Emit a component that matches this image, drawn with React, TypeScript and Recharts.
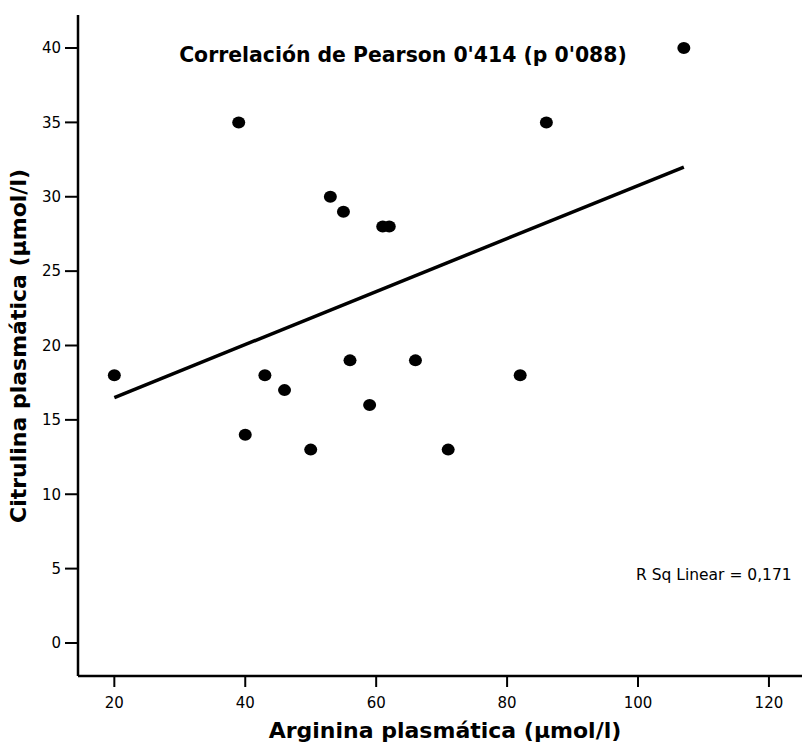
import { ReferenceLine, Scatter, ScatterChart, XAxis, YAxis } from "recharts";

// arginina (x) / citrulina (y), µmol/l
const arginina = [20, 39, 40, 43, 46, 50, 53, 55, 56, 59, 61, 62, 66, 71, 82, 86, 107];
const citrulina = [18, 35, 14, 18, 17, 13, 30, 29, 19, 16, 28, 28, 19, 13, 18, 35, 40];

// fit line endpoints as drawn
const fitX = [20, 107];
const fitY = [16.5, 32];

const xTicks = [20, 40, 60, 80, 100, 120];
const yTicks = [0, 5, 10, 15, 20, 25, 30, 35, 40];

const FONT = "'DejaVu Sans', Verdana, sans-serif";
const INK = "#000";

const data = arginina.map((x, i) => ({ x, y: citrulina[i] }));
const X_DOMAIN: [number, number] = [14.45, 125.05];
const Y_DOMAIN: [number, number] = [-2.22, 42.22];

const tickStyle = { fontSize: 15, fill: INK, fontFamily: FONT };

export default function App() {
  return (
    <div style={{ position: "absolute", left: 0, top: 0, background: "#fff" }}>
      <ScatterChart width={802} height={745} margin={{ top: 15, right: 0, left: 0, bottom: 0 }}>
        <XAxis
          xAxisId="x"
          type="number"
          dataKey="x"
          domain={X_DOMAIN}
          ticks={xTicks}
          allowDataOverflow
          height={69}
          tickSize={11}
          tickMargin={10}
          tick={tickStyle}
          tickLine={{ stroke: INK, strokeWidth: 2 }}
          axisLine={{ stroke: INK, strokeWidth: 2.5 }}
        />
        <XAxis
          xAxisId="top"
          orientation="top"
          type="number"
          domain={X_DOMAIN}
          allowDataOverflow
          height={0}
          tick={false}
          tickLine={false}
          axisLine={{ stroke: INK, strokeWidth: 2.5 }}
        />
        <YAxis
          yAxisId="y"
          type="number"
          dataKey="y"
          domain={Y_DOMAIN}
          ticks={yTicks}
          allowDataOverflow
          width={78}
          tickSize={13}
          tickMargin={4}
          tick={tickStyle}
          tickLine={{ stroke: INK, strokeWidth: 2 }}
          axisLine={{ stroke: INK, strokeWidth: 2.5 }}
        />
        <ReferenceLine
          xAxisId="x"
          yAxisId="y"
          segment={[
            { x: fitX[0], y: fitY[0] },
            { x: fitX[1], y: fitY[1] },
          ]}
          stroke={INK}
          strokeWidth={3.5}
        />
        <Scatter
          xAxisId="x"
          yAxisId="y"
          data={data}
          fill={INK}
          isAnimationActive={false}
          shape={(p: any) => <ellipse cx={p.cx} cy={p.cy} rx={6.5} ry={6} fill={INK} />}
        />
        <text x={403} y={62} textAnchor="middle" fontFamily={FONT} fontWeight="bold" fontSize={20.4} fill={INK}>
          Correlación de Pearson 0'414 (p 0'088)
        </text>
        <text x={636} y={580} fontFamily={FONT} fontSize={15.5} fill={INK}>
          R Sq Linear = 0,171
        </text>
        <text x={445} y={738} textAnchor="middle" fontFamily={FONT} fontWeight="bold" fontSize={22} fill={INK}>
          Arginina plasmática (µmol/l)
        </text>
        <text
          x={26}
          y={346}
          transform="rotate(-90 26 346)"
          textAnchor="middle"
          fontFamily={FONT}
          fontWeight="bold"
          fontSize={22}
          fill={INK}
        >
          Citrulina plasmática (µmol/l)
        </text>
      </ScatterChart>
    </div>
  );
}
